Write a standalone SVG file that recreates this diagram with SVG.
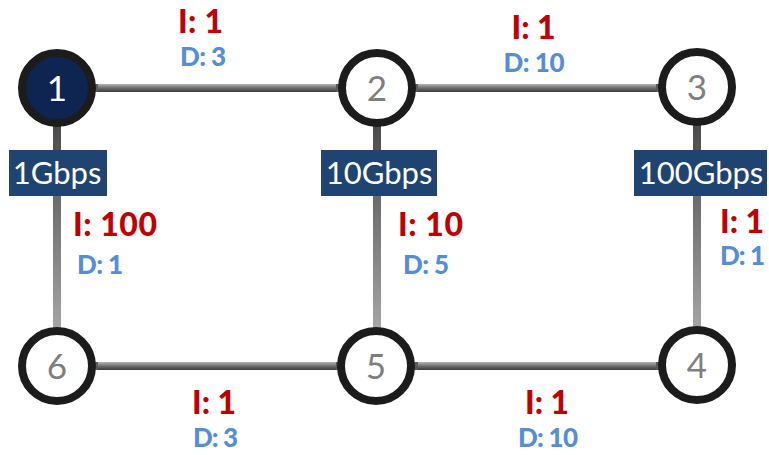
<svg xmlns="http://www.w3.org/2000/svg" width="769" height="455" viewBox="0 0 769 455">
  <defs>
    <linearGradient id="hTube" x1="0" y1="0" x2="0" y2="1">
      <stop offset="0" stop-color="#b4b4b4"/>
      <stop offset="0.5" stop-color="#6e6e6e"/>
      <stop offset="1" stop-color="#3c3c3c"/>
    </linearGradient>
    <linearGradient id="vTube" gradientUnits="userSpaceOnUse" x1="0" y1="128" x2="0" y2="326">
      <stop offset="0" stop-color="#4c4c4c"/>
      <stop offset="1" stop-color="#a4a4a4"/>
    </linearGradient>
    <style>
      .h { fill: url(#hTube); }
      .v { fill: url(#vTube); }
      .cap { fill: #5a5a5a; }
      .node circle { fill: #ffffff; stroke: #1c1c1c; stroke-width: 8; }
      .node text { font-family: Lato, "Open Sans", sans-serif; font-size: 35px; fill: #7f7f7f; text-anchor: middle; }
      .node.src circle { fill: #0d2550; }
      .node.src text { fill: #ffffff; }
      .rate rect { fill: #1f4471; }
      .rate text { font-family: Lato, "Open Sans", sans-serif; font-size: 31px; fill: #ffffff; text-anchor: middle; }
      .i { font-family: Lato, "Open Sans", sans-serif; font-weight: 900; font-size: 32px; fill: #c00000; text-anchor: middle; }
      .d { font-family: Lato, "Open Sans", sans-serif; font-weight: 900; font-size: 26px; fill: #558ed5; text-anchor: middle; }
    </style>
  </defs>

  <!-- links -->
  <g id="connectors">
    <rect class="h" x="92" y="84" width="250" height="8"/>
    <rect class="h" x="412" y="84" width="250" height="8"/>
    <rect class="h" x="92" y="362" width="250" height="8"/>
    <rect class="h" x="412" y="362" width="250" height="8"/>
    <rect class="v" x="53" y="124" width="8" height="206"/>
    <rect class="v" x="373" y="124" width="8" height="206"/>
    <rect class="v" x="693" y="124" width="8" height="206"/>
    <!-- joint stubs where links meet the rings -->
    <rect class="cap" x="93" y="84" width="5" height="8"/>
    <rect class="cap" x="336" y="84" width="5" height="8"/>
    <rect class="cap" x="413" y="84" width="5" height="8"/>
    <rect class="cap" x="656" y="84" width="5" height="8"/>
    <rect class="cap" x="93" y="362" width="5" height="8"/>
    <rect class="cap" x="336" y="362" width="5" height="8"/>
    <rect class="cap" x="413" y="362" width="5" height="8"/>
    <rect class="cap" x="656" y="362" width="5" height="8"/>
  </g>

  <!-- link rate tags -->
  <g id="rate-1-6" class="rate">
    <rect x="9" y="150" width="98" height="46"/>
    <text x="57" y="184">1Gbps</text>
  </g>
  <g id="rate-2-5" class="rate">
    <rect x="321" y="150" width="116" height="46"/>
    <text x="379" y="184">10Gbps</text>
  </g>
  <g id="rate-3-4" class="rate">
    <rect x="634" y="150" width="133" height="46"/>
    <text x="701" y="184">100Gbps</text>
  </g>

  <!-- link metrics -->
  <g id="metrics">
    <text class="i" x="200.5" y="33" textLength="45">I: 1</text>
    <text class="d" x="203" y="66" textLength="46">D: 3</text>
    <text class="i" x="533.5" y="39" textLength="44">I: 1</text>
    <text class="d" x="534" y="72" textLength="61">D: 10</text>
    <text class="i" x="115" y="236" textLength="84">I: 100</text>
    <text class="d" x="100" y="274" textLength="46">D: 1</text>
    <text class="i" x="430.5" y="236" textLength="65">I: 10</text>
    <text class="d" x="426" y="274" textLength="46">D: 5</text>
    <text class="i" x="742" y="233" textLength="44">I: 1</text>
    <text class="d" x="742.5" y="265" textLength="45">D: 1</text>
    <text class="i" x="214" y="414" textLength="44">I: 1</text>
    <text class="d" x="215.5" y="447" textLength="45">D: 3</text>
    <text class="i" x="547" y="414" textLength="44">I: 1</text>
    <text class="d" x="548" y="447" textLength="60">D: 10</text>
  </g>

  <!-- routers -->
  <g id="node-1" class="node src">
    <circle cx="57" cy="88" r="35"/>
    <text x="57" y="100.5">1</text>
  </g>
  <g id="node-2" class="node">
    <circle cx="377" cy="88" r="35"/>
    <text x="377" y="100.5">2</text>
  </g>
  <g id="node-3" class="node">
    <circle cx="697" cy="87" r="35"/>
    <text x="697" y="99.5">3</text>
  </g>
  <g id="node-4" class="node">
    <circle cx="697" cy="365" r="35"/>
    <text x="697" y="377.5">4</text>
  </g>
  <g id="node-5" class="node">
    <circle cx="376" cy="366" r="35"/>
    <text x="376" y="378.5">5</text>
  </g>
  <g id="node-6" class="node">
    <circle cx="57" cy="366" r="35"/>
    <text x="57" y="378.5">6</text>
  </g>
</svg>
